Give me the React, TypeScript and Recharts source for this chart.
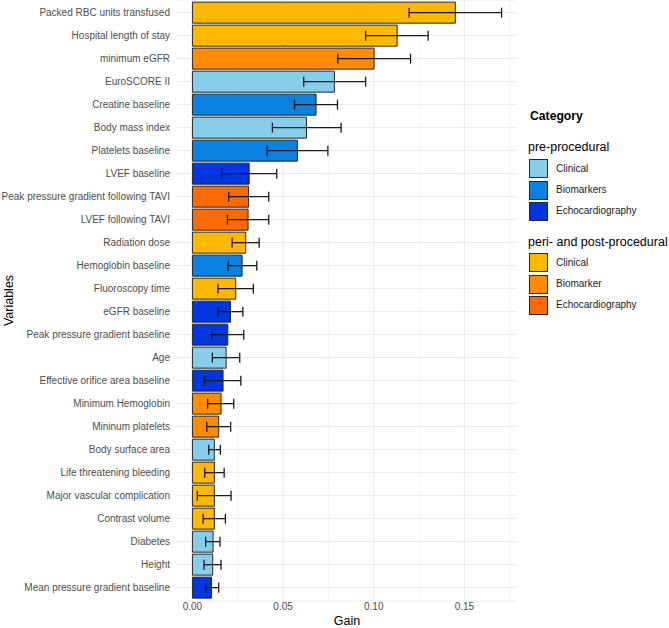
import React from 'react';
import { BarChart, Bar, XAxis, YAxis, CartesianGrid, ErrorBar, Cell } from 'recharts';

const variables = [
  'Packed RBC units transfused',
  'Hospital length of stay',
  'minimum eGFR',
  'EuroSCORE II',
  'Creatine baseline',
  'Body mass index',
  'Platelets baseline',
  'LVEF baseline',
  'Peak pressure gradient following TAVI',
  'LVEF following TAVI',
  'Radiation dose',
  'Hemoglobin baseline',
  'Fluoroscopy time',
  'eGFR baseline',
  'Peak pressure gradient baseline',
  'Age',
  'Effective orifice area baseline',
  'Minimum Hemoglobin',
  'Mininum platelets',
  'Body surface area',
  'Life threatening bleeding',
  'Major vascular complication',
  'Contrast volume',
  'Diabetes',
  'Height',
  'Mean pressure gradient baseline',
];

const gain = [
  0.145, 0.1129, 0.1002, 0.0783, 0.0682, 0.0629, 0.0579, 0.0313, 0.0309, 0.0307,
  0.0294, 0.0274, 0.0239, 0.021, 0.0195, 0.0186, 0.0169, 0.0158, 0.0145, 0.0121,
  0.0121, 0.0121, 0.0121, 0.0114, 0.0112, 0.0105,
];

const gainLow = [
  0.1195, 0.0955, 0.0802, 0.0614, 0.0563, 0.0441, 0.0412, 0.0162, 0.02, 0.0193,
  0.0219, 0.0197, 0.0141, 0.0141, 0.0107, 0.011, 0.0066, 0.0084, 0.0079, 0.009,
  0.0068, 0.0027, 0.0059, 0.0073, 0.0064, 0.0073,
];

const gainHigh = [
  0.1705, 0.13, 0.1203, 0.0955, 0.08, 0.082, 0.0747, 0.0465, 0.0421, 0.0421,
  0.0368, 0.0355, 0.0336, 0.0278, 0.0283, 0.0261, 0.0267, 0.0228, 0.0211, 0.0154,
  0.0175, 0.0213, 0.0182, 0.0152, 0.0158, 0.0145,
];

const categoryOf = [
  'peri-Clinical', 'peri-Clinical', 'peri-Biomarker', 'pre-Clinical', 'pre-Biomarkers',
  'pre-Clinical', 'pre-Biomarkers', 'pre-Echocardiography', 'peri-Echocardiography',
  'peri-Echocardiography', 'peri-Clinical', 'pre-Biomarkers', 'peri-Clinical',
  'pre-Echocardiography', 'pre-Echocardiography', 'pre-Clinical', 'pre-Echocardiography',
  'peri-Biomarker', 'peri-Biomarker', 'pre-Clinical', 'peri-Clinical', 'peri-Clinical',
  'peri-Clinical', 'pre-Clinical', 'pre-Clinical', 'pre-Echocardiography',
];

const xTicks = [0, 0.05, 0.1, 0.15];
const xMinor = [0.025, 0.075, 0.125, 0.175];
const xDomain = [-0.0085, 0.179];

const legendGroups = [
  { title: 'pre-procedural', items: [['pre-Clinical', 'Clinical'], ['pre-Biomarkers', 'Biomarkers'], ['pre-Echocardiography', 'Echocardiography']] },
  { title: 'peri- and post-procedural', items: [['peri-Clinical', 'Clinical'], ['peri-Biomarker', 'Biomarker'], ['peri-Echocardiography', 'Echocardiography']] },
];

const colors: Record<string, string> = {
  'pre-Clinical': '#87CEEB',
  'pre-Biomarkers': '#0A80E0',
  'pre-Echocardiography': '#0036E0',
  'peri-Clinical': '#FFB800',
  'peri-Biomarker': '#FF8C00',
  'peri-Echocardiography': '#FF6A00',
};

const data = variables.map((name, i) => ({
  name,
  gain: gain[i],
  err: [gain[i] - gainLow[i], gainHigh[i] - gain[i]],
  cat: categoryOf[i],
}));

const FONT = '"Liberation Sans", Arial, sans-serif';

const vGen = (vals: number[]) => (props: any) => {
  const { xAxis, offset } = props;
  if (xAxis && typeof xAxis.scale === 'function') {
    return vals.map((v) => xAxis.scale(v));
  }
  return vals.map((v) => offset.left + ((v - xDomain[0]) / (xDomain[1] - xDomain[0])) * offset.width);
};

const YTick = (props: any) => {
  const { x, y, payload } = props;
  return (
    <text x={x - 6} y={y} dy="0.35em" textAnchor="end" fontSize={10} fill="#4D4D4D" fontFamily={FONT}>
      {payload.value}
    </text>
  );
};

const XTick = (props: any) => {
  const { x, y, payload } = props;
  return (
    <text x={x} y={y} dy="0.71em" textAnchor="middle" fontSize={10} fill="#4D4D4D" fontFamily={FONT}>
      {Number(payload.value).toFixed(2)}
    </text>
  );
};

export default function App() {
  return (
    <div style={{ position: 'absolute', left: 0, top: 0, width: 669, height: 628, background: '#fff', fontFamily: FONT }}>
      <BarChart
        width={669}
        height={628}
        data={data}
        layout="vertical"
        margin={{ top: 0, right: 152, bottom: 0, left: 0 }}
        barCategoryGap="5%"
      >
        <CartesianGrid horizontal={false} vertical={true} stroke="#EEEEEE" strokeWidth={0.6} verticalCoordinatesGenerator={vGen(xMinor)} />
        <CartesianGrid horizontal={true} vertical={true} stroke="#EBEBEB" strokeWidth={1.1} verticalCoordinatesGenerator={vGen(xTicks)} />
        <XAxis
          type="number"
          domain={xDomain}
          ticks={xTicks}
          allowDataOverflow
          height={27}
          axisLine={false}
          tickLine={false}
          tickSize={0}
          tickMargin={2}
          tick={<XTick />}
          label={{
            content: (p: any) => (
              <text x={p.viewBox.x + p.viewBox.width / 2} y={p.viewBox.y + 24} textAnchor="middle" fontSize={12.5} fill="#000" fontFamily={FONT}>
                Gain
              </text>
            ),
          }}
        />
        <YAxis
          type="category"
          dataKey="name"
          width={177}
          interval={0}
          axisLine={false}
          tickLine={false}
          tickSize={0}
          tickMargin={1}
          padding={{ top: 1, bottom: 2 }}
          tick={<YTick />}
          label={{
            content: (p: any) => {
              const cy = p.viewBox.y + p.viewBox.height / 2;
              return (
                <text x={12.5} y={cy} transform={`rotate(-90, 12.5, ${cy})`} textAnchor="middle" fontSize={12.5} fill="#000" fontFamily={FONT}>
                  Variables
                </text>
              );
            },
          }}
        />
        <Bar dataKey="gain" isAnimationActive={false} stroke="#262626" strokeWidth={1}>
          {data.map((d, i) => (
            <Cell key={i} fill={colors[d.cat]} />
          ))}
          <ErrorBar dataKey="err" direction="x" width={5} stroke="#1A1A1A" strokeWidth={1.3} />
        </Bar>
      </BarChart>
      <div style={{ position: 'absolute', left: 530, top: 108, fontSize: 12.2, fontWeight: 'bold', color: '#000', lineHeight: '16px' }}>
        Category
      </div>
      {legendGroups.map((g, gi) => {
        const titleTop = gi === 0 ? 138.7 : 234.3;
        const boxTop = gi === 0 ? 159.3 : 253.3;
        return (
          <React.Fragment key={gi}>
            <div style={{ position: 'absolute', left: 528, top: titleTop, fontSize: 12.5, color: '#000', lineHeight: '16px', whiteSpace: 'nowrap' }}>
              {g.title}
            </div>
            {g.items.map(([key, label], ii) => (
              <React.Fragment key={key}>
                <div
                  style={{
                    position: 'absolute',
                    left: 529,
                    top: boxTop + ii * 21.2,
                    width: 17,
                    height: 17,
                    background: colors[key],
                    border: '1px solid #262626',
                  }}
                />
                <div style={{ position: 'absolute', left: 556, top: boxTop + ii * 21.2 + 2.5, fontSize: 10, color: '#1A1A1A', lineHeight: '14px', whiteSpace: 'nowrap' }}>
                  {label}
                </div>
              </React.Fragment>
            ))}
          </React.Fragment>
        );
      })}
    </div>
  );
}
